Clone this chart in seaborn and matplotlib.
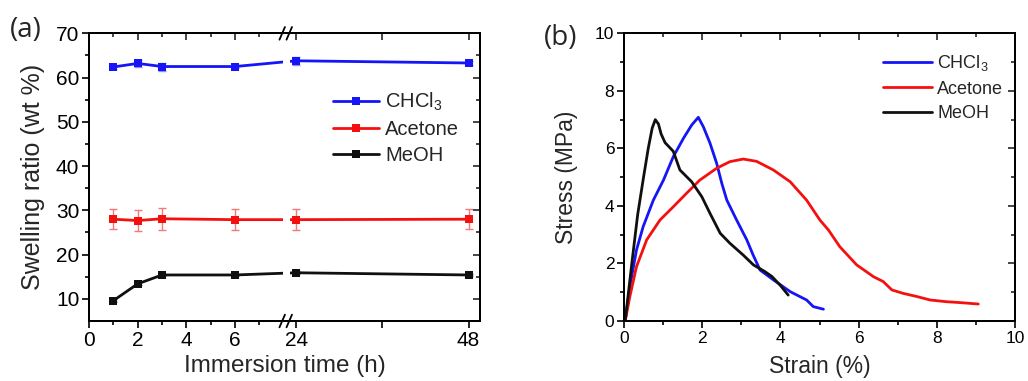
import numpy as np
import pandas as pd
import matplotlib
matplotlib.use("Agg")
import matplotlib.pyplot as plt
import seaborn as sns

# ---------------- data: panel (a) ----------------
time_h = [1, 2, 3, 6, 24, 48]
chcl3_ratio = [62.4, 63.2, 62.5, 62.5, 63.8, 63.3]
chcl3_err = [0.4, 0.8, 0.9, 0.4, 0.9, 0.4]
acetone_ratio = [28.0, 27.7, 28.1, 27.9, 27.9, 28.0]
acetone_err = [2.3, 2.4, 2.5, 2.3, 2.4, 2.2]
meoh_ratio = [9.6, 13.4, 15.4, 15.4, 15.9, 15.4]
meoh_err = [0.3, 0.3, 0.3, 0.3, 0.3, 0.3]

# ---------------- data: panel (b) ----------------
chcl3_strain = [0.03, 0.15, 0.32, 0.49, 0.75, 1.01, 1.26, 1.52, 1.73, 1.9, 2.03, 2.2, 2.37,
                2.5, 2.63, 2.88, 3.14, 3.3, 3.48, 3.82, 4.25, 4.67, 4.84, 5.1]
chcl3_stress = [0.0, 1.19, 2.47, 3.28, 4.2, 4.9, 5.71, 6.35, 6.81, 7.08, 6.75, 6.18, 5.48,
                4.79, 4.2, 3.51, 2.82, 2.3, 1.77, 1.43, 1.02, 0.73, 0.5, 0.41]
acetone_strain = [0.03, 0.15, 0.32, 0.58, 0.92, 1.26, 1.6, 1.94, 2.37, 2.71, 3.05, 3.39, 3.82,
                  4.25, 4.67, 5.01, 5.23, 5.52, 5.95, 6.38, 6.63, 6.85, 7.14, 7.49, 7.83, 8.25,
                  8.59, 9.06]
acetone_stress = [0.0, 0.85, 1.89, 2.82, 3.51, 3.97, 4.44, 4.9, 5.31, 5.54, 5.63, 5.55, 5.25,
                  4.84, 4.2, 3.51, 3.16, 2.58, 1.95, 1.54, 1.37, 1.08, 0.96, 0.85, 0.73, 0.67,
                  0.64, 0.59]
meoh_strain = [0.03, 0.2, 0.35, 0.5, 0.62, 0.72, 0.8, 0.88, 0.95, 1.05, 1.26, 1.43, 1.73, 1.99,
               2.2, 2.46, 2.71, 3.05, 3.31, 3.6, 3.78, 3.99, 4.2]
meoh_stress = [0.0, 2.0, 3.7, 5.0, 6.0, 6.7, 7.0, 6.85, 6.5, 6.2, 5.9, 5.25, 4.84, 4.32,
               3.74, 3.05, 2.7, 2.29, 1.95, 1.72, 1.55, 1.25, 0.9]

solvents = ["CHCl3", "Acetone", "MeOH"]
legend_labels = ["CHCl$_3$", "Acetone", "MeOH"]
colors = {"CHCl3": "#1515f5", "Acetone": "#f51010", "MeOH": "#101010"}
err_colors = {"CHCl3": "#8f8ff5", "Acetone": "#f07a7a", "MeOH": "#707070"}

# ---------------- style ----------------
sns.set_theme(style="ticks")
plt.rcParams["font.family"] = ["Liberation Sans", "DejaVu Sans"]
plt.rcParams["mathtext.fontset"] = "custom"
plt.rcParams["mathtext.rm"] = "Liberation Sans"
plt.rcParams["mathtext.it"] = "Liberation Sans"
plt.rcParams["mathtext.default"] = "regular"
plt.rcParams["axes.linewidth"] = 1.3
plt.rcParams["axes.edgecolor"] = "black"

fig = plt.figure(figsize=(10.28, 3.81), dpi=100)
ax1 = fig.add_axes([0.0866, 0.1575, 0.3804, 0.755])
ax2 = fig.add_axes([0.607, 0.1575, 0.3804, 0.755])

# broken x-axis scale for panel (a)
G = 0.508 / 16.0
K = 0.2951


def fwd(x):
    x = np.asarray(x, dtype=float)
    return np.where(x <= 8, x, np.where(x < 24, 8 + (x - 8) * G, 8.508 + (x - 24) * K))


def inv(y):
    y = np.asarray(y, dtype=float)
    return np.where(y <= 8, y, np.where(y < 8.508, 8 + (y - 8) / G, 24 + (y - 8.508) / K))


# ---------------- panel (a) ----------------
dfa = pd.DataFrame({
    "time": time_h * 3,
    "ratio": chcl3_ratio + acetone_ratio + meoh_ratio,
    "err": chcl3_err + acetone_err + meoh_err,
    "solvent": ["CHCl3"] * 6 + ["Acetone"] * 6 + ["MeOH"] * 6,
})
ax1.set_xscale("function", functions=(fwd, inv))
for s in solvents:
    d = dfa[dfa.solvent == s]
    ax1.errorbar(d["time"], d["ratio"], yerr=d["err"], fmt="none", ecolor=err_colors[s],
                 elinewidth=1.0, capsize=3, capthick=1.0, zorder=1.5)
sns.lineplot(data=dfa, x="time", y="ratio", hue="solvent", hue_order=solvents,
             palette=colors, marker="s", markersize=6, markeredgewidth=0, linewidth=2.0,
             estimator=None, sort=False, ax=ax1, zorder=2)
# gap in the lines across the axis break
ax1.axvspan(7.96, 15.9, color="white", zorder=2.3, lw=0)

ax1.set_xlim(0, 49.6)
ax1.set_ylim(5, 70)
ax1.set_xticks([0, 2, 4, 6, 24, 36, 48])
ax1.set_xticklabels(["0", "2", "4", "6", "24", "", "48"])
ax1.set_xticks([1, 3, 5, 7], minor=True)
ax1.set_yticks([10, 20, 30, 40, 50, 60, 70])
ax1.set_yticks([15, 25, 35, 45, 55, 65], minor=True)
ax1.set_xlabel("Immersion time (h)", fontsize=17.5, labelpad=4)
ax1.set_ylabel("Swelling ratio (wt %)", fontsize=18, labelpad=8)

h, l = ax1.get_legend_handles_labels()
ax1.legend(h, legend_labels, loc="upper left", bbox_to_anchor=(0.624, 0.80), frameon=False,
           fontsize=14.5, handlelength=2.3, handletextpad=0.3, borderpad=0, borderaxespad=0,
           labelspacing=0.35)

# break marks
for yy in (0.0, 1.0):
    for xx in (0.494, 0.512):
        ax1.plot([xx - 0.007, xx + 0.007], [yy - 0.022, yy + 0.022], color="black", lw=1.3,
                 transform=ax1.transAxes, clip_on=False, zorder=10)

# ---------------- panel (b) ----------------
dfb = pd.DataFrame({
    "strain": chcl3_strain + acetone_strain + meoh_strain,
    "stress": chcl3_stress + acetone_stress + meoh_stress,
    "solvent": ["CHCl3"] * len(chcl3_strain) + ["Acetone"] * len(acetone_strain)
               + ["MeOH"] * len(meoh_strain),
})
sns.lineplot(data=dfb, x="strain", y="stress", hue="solvent", hue_order=solvents,
             palette=colors, linewidth=2.0, estimator=None, sort=False, ax=ax2)
ax2.set_xlim(0, 10)
ax2.set_ylim(0, 10)
ax2.set_xticks([0, 2, 4, 6, 8, 10])
ax2.set_xticks([1, 3, 5, 7, 9], minor=True)
ax2.set_yticks([0, 2, 4, 6, 8, 10])
ax2.set_yticks([1, 3, 5, 7, 9], minor=True)
ax2.set_xlabel("Strain (%)", fontsize=16.5, labelpad=7)
ax2.set_ylabel("Stress (MPa)", fontsize=16.5, labelpad=12)
h, l = ax2.get_legend_handles_labels()
ax2.legend(h, legend_labels, loc="upper left", bbox_to_anchor=(0.662, 0.93), frameon=False,
           fontsize=13, handlelength=2.7, handletextpad=0.3, borderpad=0, borderaxespad=0,
           labelspacing=0.4)

# ---------------- ticks ----------------
for ax, fs in ((ax1, 15), (ax2, 12.5)):
    ax.tick_params(which="both", direction="out", top=False, right=False, width=1.2,
                   labelsize=fs, colors="black", pad=2)
    ax.tick_params(which="major", length=5)
    ax.tick_params(which="minor", length=3)
    for sp in ax.spines.values():
        sp.set_visible(True)
        sp.set_linewidth(1.3)

# mirrored inward ticks on top / right
for ax in (ax1, ax2):
    tx = ax.twiny()
    if ax is ax1:
        tx.set_xscale("function", functions=(fwd, inv))
    tx.set_xlim(ax.get_xlim())
    tx.set_xticks(ax.get_xticks())
    tx.set_xticks(ax.get_xticks(minor=True), minor=True)
    tx.tick_params(which="both", direction="in", labeltop=False, width=1.2)
    tx.tick_params(which="major", length=5)
    tx.tick_params(which="minor", length=3)
    ty = ax.twinx()
    ty.set_ylim(ax.get_ylim())
    ty.set_yticks(ax.get_yticks())
    ty.set_yticks(ax.get_yticks(minor=True), minor=True)
    ty.tick_params(which="both", direction="in", labelright=False, width=1.2)
    ty.tick_params(which="major", length=5)
    ty.tick_params(which="minor", length=3)
    for t in (tx, ty):
        for sp in t.spines.values():
            sp.set_linewidth(1.3)

# panel labels
fig.text(0.025, 0.92, "(a)", fontsize=20, family=["Open Sans", "DejaVu Sans"],
         ha="center", va="center")
fig.text(0.545, 0.9, "(b)", fontsize=20, family=["Open Sans", "DejaVu Sans"],
         ha="center", va="center")

fig.savefig("out.png", dpi=100)
